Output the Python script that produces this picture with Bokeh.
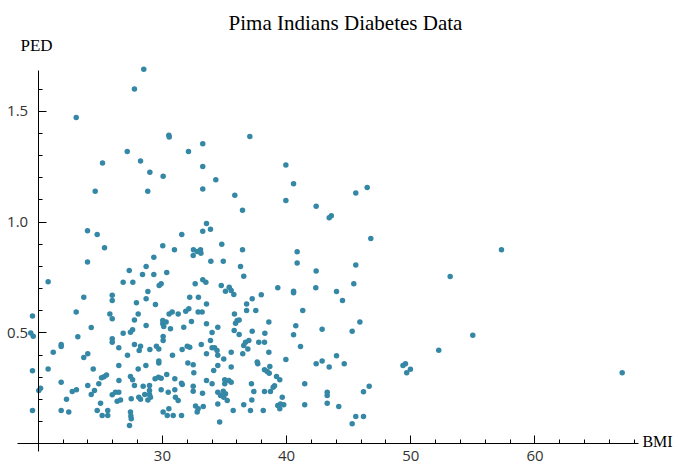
from bokeh.plotting import figure
from bokeh.models import Range1d, FixedTicker, Label, ColumnDataSource, PrintfTickFormatter, AllLabels
from bokeh.embed import file_html
from bokeh.resources import INLINE

title_text = "Pima Indians Diabetes Data"
x_name = "BMI"
y_name = "PED"
x_major = [30, 40, 50, 60]
x_minor = [22, 24, 26, 28, 32, 34, 36, 38, 42, 44, 46, 48, 52, 54, 56, 58, 62, 64, 66, 68]
y_major = [0.5, 1.0, 1.5]
y_minor = [0.1, 0.2, 0.3, 0.4, 0.6, 0.7, 0.8, 0.9, 1.1, 1.2, 1.3, 1.4, 1.6]

bmi = [28.5, 27.75, 23.06, 30.52, 30.55, 27.17, 32.1, 25.18, 28.24, 28.99, 30.06, 33.25, 33.25, 37.04,
       34.3, 33.25, 24.59, 28.82, 39.94, 40.56, 35.83, 36.45, 39.94, 42.38, 43.43, 43.6, 45.57, 46.49,
       46.78, 23.97, 24.75, 25.34, 31.56, 30.03, 30.97, 29.31, 32.5, 32.8, 33.07, 33.1, 33.55, 33.25,
       33.87, 34.78, 36.45, 40.85, 23.97, 33.9, 34.9, 45.57, 45.41, 45.9, 45.28, 53.17, 57.3, 54.99,
       52.25, 49.37, 49.57, 49.67, 49.97, 46.19, 46.65, 45.57, 46.19, 45.28, 67.02,
       20.8, 23.67, 25.96, 25.96, 19.54, 23.06, 25.77, 25.96, 19.4, 19.6, 24.27, 23.19, 25.96, 25.96,
       26.49, 21.85, 21.85, 21.21, 23.99, 23.67, 26.49, 19.54, 20.8, 24.43, 25.5, 25.3, 25.1, 26.5,
       21.85, 24.88, 23.99, 20.19, 20.05, 22.74, 23.08, 24.53, 24.27, 26.49, 25.96, 26.22, 22.28,
       25.02, 19.54, 21.85, 22.46, 24.75, 25.15, 25.6, 25.6,
       32.48, 27.33, 28.69, 28.4, 29.31, 30.35, 26.84, 27.62, 29.74, 29.9, 32.64, 28.83, 32.9, 27.91,
       28.69, 29.44, 32.2, 30.54, 30.79, 31.27, 31.88, 32.13, 32.88, 28.05, 27.75, 30.03, 30.03, 30.11,
       30.3, 32.34, 27.6, 27.43, 28.69, 30.65, 26.84, 30.06, 30.06, 31.72, 27.75, 28.24, 28.13, 28.99,
       29.52, 29.71, 31.59, 32.0, 32.2, 27.19, 30.81, 29.71, 29.71, 28.67, 28.05, 32.48, 32.05, 27.43,
       27.6, 29.41, 29.68, 29.9, 30.35, 31.0, 28.45, 28.96, 28.96, 27.75, 31.54, 31.6, 32.48, 29.9,
       30.47, 31.0, 28.58, 28.96, 29.04, 28.83, 28.1, 28.24, 26.63, 26.36, 27.49, 31.27, 31.05, 32.48,
       32.67, 32.88, 32.8, 27.43, 27.46, 27.49, 27.35, 30.06, 30.39, 30.87, 30.52, 31.54,
       36.29, 36.55, 42.38, 33.25, 33.5, 34.74, 35.08, 35.38, 35.54, 35.75, 39.29, 40.56, 40.56, 42.35,
       44.02, 44.5, 33.55, 36.78, 36.78, 37.23, 37.96, 37.52, 33.2, 35.8, 41.3, 33.55, 34.0, 34.46,
       35.89, 36.02, 36.18, 35.78, 36.18, 38.57, 40.74, 40.56, 37.23, 38.25, 42.86, 33.13, 33.87, 33.55,
       34.0, 34.2, 34.4, 34.46, 34.94, 35.54, 36.47, 36.55, 36.69, 36.96, 36.88, 37.76, 38.22, 38.57,
       37.63, 37.68, 39.94, 41.12, 42.38, 42.86, 43.43, 44.02, 44.64, 32.53, 33.55, 34.0, 34.13, 34.46,
       35.54, 35.02, 35.35, 35.54, 35.02, 34.46, 34.68, 34.9, 35.08, 34.94, 35.22, 34.46, 33.23, 37.17,
       37.36, 37.2, 38.22, 38.44, 38.65, 38.6, 38.22, 38.7, 38.92, 39.03, 39.19, 39.45, 39.65, 39.29,
       39.51, 39.77, 39.45, 41.46, 43.27, 43.27, 43.27, 41.46, 44.2, 36.55, 37.09, 38.12, 35.7, 34.61,
       33.29, 40.85]
ped = [1.69, 1.60, 1.472, 1.392, 1.384, 1.318, 1.318, 1.267, 1.276, 1.225, 1.207, 1.353, 1.251, 1.386,
       1.191, 1.149, 1.139, 1.139, 1.258, 1.173, 1.121, 1.054, 1.097, 1.072, 1.02, 1.029, 1.131, 1.156,
       0.926, 0.961, 0.944, 0.884, 0.944, 0.893, 0.875, 0.842, 0.875, 0.867, 0.875, 0.86, 0.994, 0.959,
       0.968, 0.900, 0.875, 0.866, 0.82, 0.824, 0.824, 0.806, 0.722, 0.55, 0.508, 0.755, 0.875, 0.49,
       0.422, 0.353, 0.361, 0.32, 0.336, 0.235, 0.26, 0.123, 0.123, 0.09, 0.32,
       0.731, 0.661, 0.67, 0.646, 0.576, 0.594, 0.586, 0.564, 0.50, 0.485, 0.525, 0.483, 0.474, 0.458,
       0.433, 0.448, 0.439, 0.413, 0.406, 0.389, 0.353, 0.329, 0.338, 0.338, 0.31, 0.303, 0.298, 0.286,
       0.278, 0.271, 0.263, 0.251, 0.24, 0.236, 0.244, 0.24, 0.222, 0.233, 0.221, 0.233, 0.201,
       0.183, 0.15, 0.15, 0.143, 0.15, 0.128, 0.128, 0.15,
       0.849, 0.782, 0.80, 0.764, 0.764, 0.773, 0.729, 0.729, 0.714, 0.722, 0.722, 0.687, 0.661, 0.636,
       0.654, 0.628, 0.661, 0.586, 0.594, 0.586, 0.598, 0.609, 0.594, 0.586, 0.559, 0.556, 0.541, 0.529,
       0.549, 0.552, 0.514, 0.503, 0.534, 0.519, 0.499, 0.484, 0.466, 0.526, 0.448, 0.44, 0.421, 0.425,
       0.44, 0.428, 0.425, 0.44, 0.436, 0.399, 0.399, 0.373, 0.364, 0.353, 0.338, 0.357, 0.364, 0.304,
       0.289, 0.293, 0.30, 0.296, 0.313, 0.294, 0.26, 0.263, 0.24, 0.263, 0.273, 0.267, 0.26, 0.244,
       0.233, 0.244, 0.222, 0.222, 0.21, 0.198, 0.21, 0.201, 0.198, 0.192, 0.203, 0.195, 0.21, 0.237,
       0.17, 0.158, 0.143, 0.143, 0.125, 0.113, 0.083, 0.143, 0.128, 0.128, 0.158, 0.128,
       0.80, 0.756, 0.78, 0.74, 0.729, 0.714, 0.688, 0.706, 0.691, 0.673, 0.704, 0.688, 0.681, 0.704,
       0.687, 0.646, 0.631, 0.631, 0.601, 0.654, 0.672, 0.601, 0.594, 0.586, 0.601, 0.541, 0.502, 0.526,
       0.544, 0.556, 0.559, 0.511, 0.493, 0.55, 0.532, 0.492, 0.508, 0.499, 0.517, 0.448, 0.466, 0.406,
       0.433, 0.433, 0.421, 0.399, 0.383, 0.413, 0.406, 0.443, 0.458, 0.466, 0.428, 0.458, 0.458, 0.413,
       0.369, 0.361, 0.38, 0.439, 0.361, 0.373, 0.346, 0.397, 0.361, 0.32, 0.286, 0.271, 0.331, 0.353,
       0.346, 0.289, 0.286, 0.278, 0.271, 0.233, 0.218, 0.237, 0.226, 0.21, 0.195, 0.18, 0.228, 0.271,
       0.236, 0.198, 0.334, 0.326, 0.349, 0.318, 0.236, 0.236, 0.255, 0.262, 0.304, 0.289, 0.21, 0.173,
       0.18, 0.176, 0.158, 0.271, 0.233, 0.218, 0.183, 0.176, 0.168, 0.176, 0.15, 0.15, 0.15, 0.098,
       0.168, 0.815]

n = min(len(bmi), len(ped))
src = ColumnDataSource(data=dict(x=bmi[:n], y=ped[:n]))

# plot area covers the whole canvas so that labels outside the axes are not clipped
p = figure(width=686, height=471, output_backend="svg", toolbar_location=None,
           x_range=Range1d(16.965, 72.198), y_range=Range1d(-0.1249, 1.9996),
           min_border_left=0, min_border_right=0, min_border_top=0, min_border_bottom=0)
p.outline_line_color = None
p.xgrid.visible = False
p.ygrid.visible = False
p.background_fill_color = "white"
p.border_fill_color = "white"

p.scatter("x", "y", source=src, size=5.5, fill_color="#3587a6", line_color=None)

# x axis crosses at PED = 0, y axis crosses at BMI = 20
for ax, loc, bnds, stand in ((p.xaxis[0], 0, (18.35, 68.3), 7), (p.yaxis[0], 20, (-0.035, 1.684), 10)):
    ax.fixed_location = loc
    ax.bounds = bnds
    ax.major_label_policy = AllLabels()
    ax.axis_line_color = "black"
    ax.axis_line_width = 1
    ax.major_tick_in = 8
    ax.major_tick_out = 0
    ax.minor_tick_in = 4
    ax.minor_tick_out = 0
    ax.major_tick_line_color = "black"
    ax.minor_tick_line_color = "black"
    ax.major_label_text_font = "Open Sans"
    ax.major_label_text_font_size = "15px"
    ax.major_label_text_color = "#333333"
    ax.major_label_standoff = stand

p.xaxis[0].ticker = FixedTicker(ticks=x_major, minor_ticks=x_minor)
p.yaxis[0].ticker = FixedTicker(ticks=y_major, minor_ticks=y_minor)
p.xaxis[0].formatter = PrintfTickFormatter(format="%d")
p.yaxis[0].formatter = PrintfTickFormatter(format="%.1f")

p.add_layout(Label(x=44.74, y=1.90, text=title_text, text_align="center", text_baseline="middle",
                   text_font="Liberation Serif", text_font_size="21px", text_color="black"))
p.add_layout(Label(x=18.57, y=1.797, text=y_name, text_align="left", text_baseline="middle",
                   text_font="Liberation Serif", text_font_size="17px", text_color="black"))
p.add_layout(Label(x=68.65, y=0.0104, text=x_name, text_align="left", text_baseline="middle",
                   text_font="Liberation Serif", text_font_size="16px", text_color="black"))

open("out.html", "w").write(file_html(p, INLINE))
